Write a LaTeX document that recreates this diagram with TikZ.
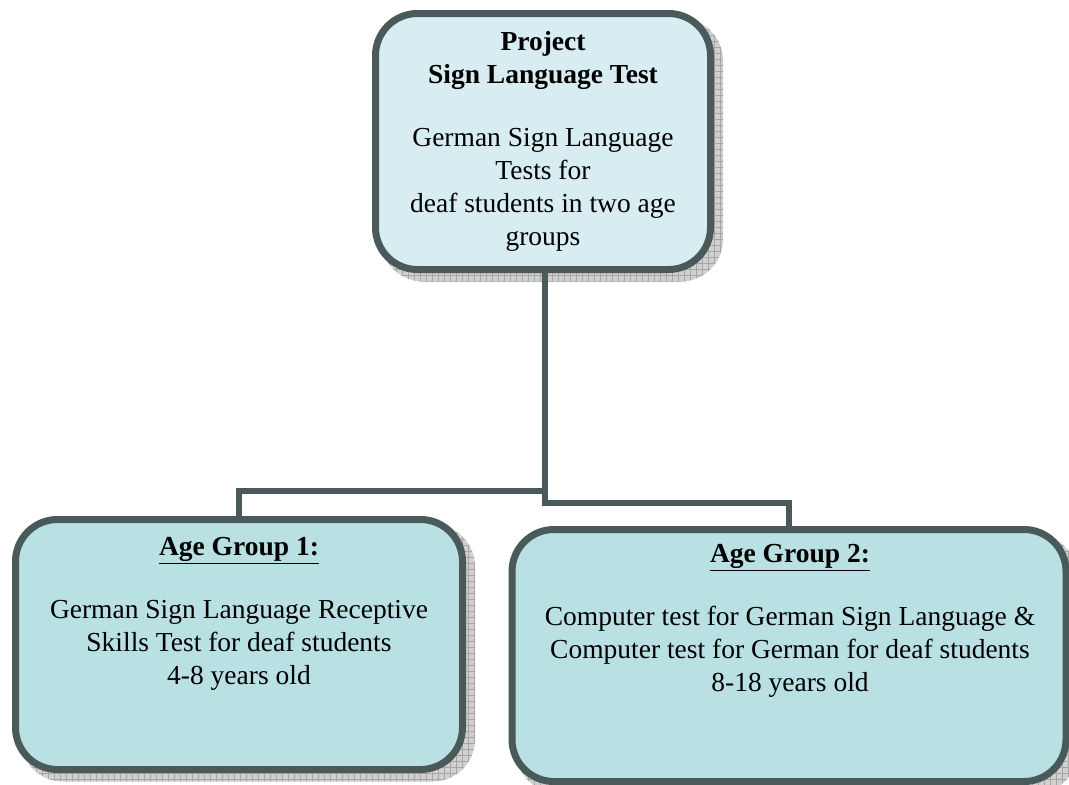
\documentclass[tikz,border=0pt]{standalone}
\usepackage{fontspec}
\setmainfont{Liberation Serif}
\usetikzlibrary{patterns.meta}
\definecolor{edge}{HTML}{4A5A5B}
\definecolor{topfill}{HTML}{D8EDF1}
\definecolor{botfill}{HTML}{B9E0E3}
\definecolor{shadowgray}{HTML}{D0D0D0}
\tikzset{
  box/.style={draw=edge, line width=7pt, rounded corners=42pt, inner sep=0pt},
  shadowbox/.style={fill=shadowgray, rounded corners=42pt, inner sep=0pt,
    postaction={pattern={Lines[angle=0,distance=6pt,line width=0.8pt]}, pattern color=gray!70},
    postaction={pattern={Lines[angle=90,distance=6pt,line width=0.8pt]}, pattern color=gray!70}},
  conn/.style={draw=edge, line width=5.5pt},
  txt/.style={align=center, inner sep=0pt, font=\fontsize{27.5}{33}\selectfont},
}
\begin{document}
\begin{tikzpicture}[x=1pt,y=-1pt]
\useasboundingbox (0,0) rectangle (1069,785);
% shadows
\node[shadowbox, minimum width=342pt, minimum height=263pt] (topsh) at (552,150) {};
\node[shadowbox, minimum width=454pt, minimum height=257pt] (leftsh) at (248,653) {};
\node[shadowbox, minimum width=561pt, minimum height=259pt] (rightsh) at (797,664) {};
% boxes
\node[box, fill=topfill, minimum width=335pt, minimum height=256pt, txt] (top) at (543,141.5)
  {\textbf{Project}\\\textbf{Sign Language Test}\\[30pt]German Sign Language\\Tests for\\deaf students in two age\\groups};
\node[box, fill=botfill, minimum width=447pt, minimum height=250pt] (left) at (239,644.5) {};
\node[box, fill=botfill, minimum width=554pt, minimum height=252pt] (right) at (789,655.5) {};
% texts
\node[txt, anchor=north] (lefttxt) at (239,537)
  {\underline{\textbf{Age Group 1:}}\\[30pt]German Sign Language Receptive\\Skills Test for deaf students\\4-8 years old};
\node[txt, anchor=north] (righttxt) at (790,544)
  {\underline{\textbf{Age Group 2:}}\\[30pt]Computer test for German Sign Language \&\\Computer test for German for deaf students\\8-18 years old};
% connectors
\coordinate (jl) at (545,491);
\coordinate (jr) at (545,503);
\draw[conn] (top.south -| jl) -- (jl) -- (jl -| left.north) -- (left.north);
\draw[conn] (jl) -- (jr) -- (jr -| right.north) -- (right.north);
\end{tikzpicture}
\end{document}
